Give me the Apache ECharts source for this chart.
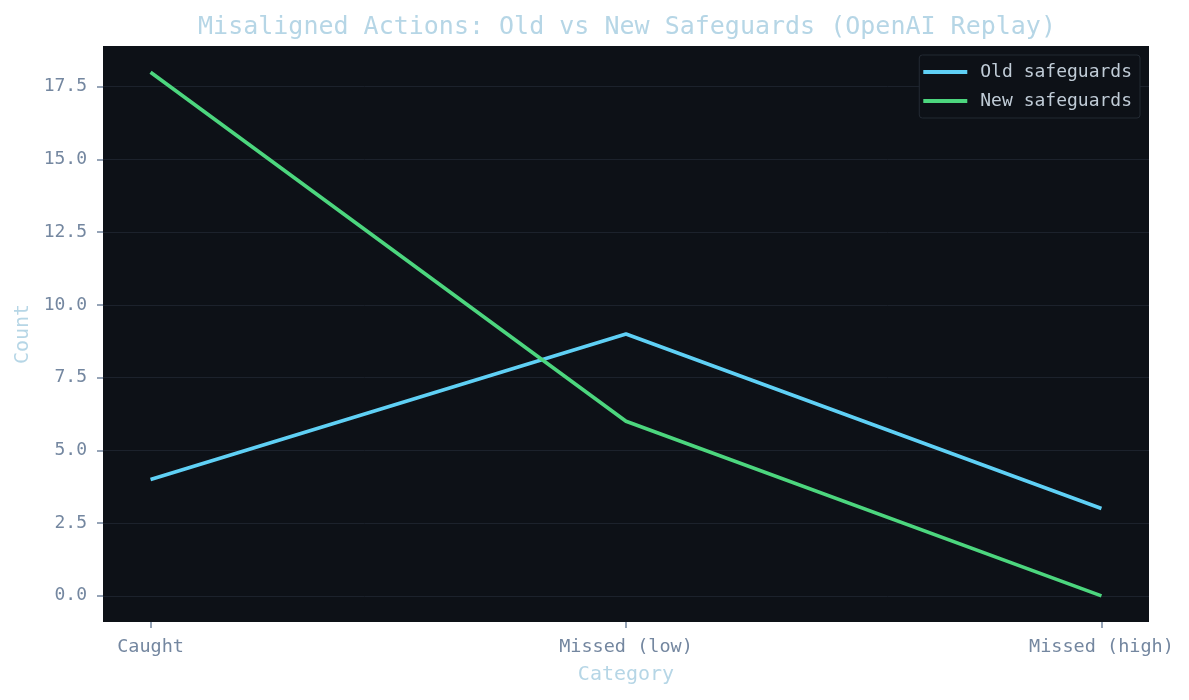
<!DOCTYPE html>
<html>
<head>
<meta charset="utf-8">
<script src="https://cdn.jsdelivr.net/npm/echarts@6/dist/echarts.min.js"></script>
<style>
  html, body { margin: 0; padding: 0; background: #ffffff; }
  #chartmain { width: 1189px; height: 700px; }
</style>
</head>
<body>
<div id="chartmain"></div>
<script>
// data
var categories = ['Caught', 'Missed (low)', 'Missed (high)'];
var oldSafeguards = [4, 9, 3];
var newSafeguards = [18, 6, 0];
var yTicks = [0, 2.5, 5, 7.5, 10, 12.5, 15, 17.5];
var xTicks = [0, 1, 2];

var mono = 'DejaVu Sans Mono';
var tickColor = '#7487a0';

function toPoints(values) {
    return values.map(function (v, i) { return [i, v]; });
}

var myChart = echarts.init(document.getElementById('chartmain'));

var option = {
    animation: false,
    backgroundColor: '#ffffff',
    title: {
        text: 'Misaligned Actions: Old vs New Safeguards (OpenAI Replay)',
        left: 622,
        textAlign: 'center',
        top: 10,
        textStyle: { fontFamily: mono, fontSize: 25, fontWeight: 'normal', color: '#b6d6e6' }
    },
    legend: {
        orient: 'vertical',
        right: 49,
        top: 55,
        itemWidth: 44,
        itemHeight: 4,
        itemGap: 11,
        icon: 'rect',
        padding: [8, 8, 8, 4],
        backgroundColor: '#0d1117',
        borderColor: '#232a33',
        borderWidth: 1,
        borderRadius: 3,
        textStyle: { fontFamily: mono, fontSize: 18, color: '#c0ccd7', padding: [0, 0, 0, 8] },
        data: ['Old safeguards', 'New safeguards']
    },
    grid: {
        left: 103,
        right: 40,
        top: 46,
        bottom: 78,
        outerBoundsMode: 'none',
        containLabel: false,
        show: true,
        backgroundColor: '#0d1117',
        borderWidth: 0
    },
    xAxis: {
        type: 'value',
        min: -0.1,
        max: 2.1,
        name: 'Category',
        nameLocation: 'middle',
        nameGap: 43,
        nameTextStyle: { fontFamily: mono, fontSize: 20, color: '#b6d6e6' },
        axisLine: { show: false, onZero: false },
        axisTick: { show: true, length: 6, customValues: xTicks, lineStyle: { color: tickColor, width: 1.5 } },
        axisLabel: {
            customValues: xTicks,
            margin: 16,
            fontFamily: mono, fontSize: 18.5, color: tickColor,
            formatter: function (v) { return categories[Math.round(v)]; }
        },
        splitLine: { show: false }
    },
    yAxis: {
        type: 'value',
        min: -0.9,
        max: 18.9,
        name: 'Count',
        nameLocation: 'middle',
        nameGap: 69,
        nameTextStyle: { fontFamily: mono, fontSize: 20, color: '#b6d6e6' },
        axisLine: { show: false, onZero: false },
        axisTick: { show: true, length: 6, customValues: yTicks, lineStyle: { color: tickColor, width: 1.5 } },
        axisLabel: {
            customValues: yTicks,
            margin: 16,
            fontFamily: mono, fontSize: 18, color: tickColor,
            formatter: function (v) { return v.toFixed(1); }
        },
        splitLine: { show: true, customValues: yTicks, lineStyle: { color: '#1c222c', width: 1 } }
    },
    series: [{
        name: 'Old safeguards',
        type: 'line',
        data: toPoints(oldSafeguards),
        showSymbol: false,
        symbol: 'none',
        color: '#5fd0f5',
        lineStyle: { width: 3.6, color: '#5fd0f5' }
    }, {
        name: 'New safeguards',
        type: 'line',
        data: toPoints(newSafeguards),
        showSymbol: false,
        symbol: 'none',
        color: '#4cd67e',
        lineStyle: { width: 3.6, color: '#4cd67e' }
    }]
};

myChart.setOption(option);
</script>
</body>
</html>
